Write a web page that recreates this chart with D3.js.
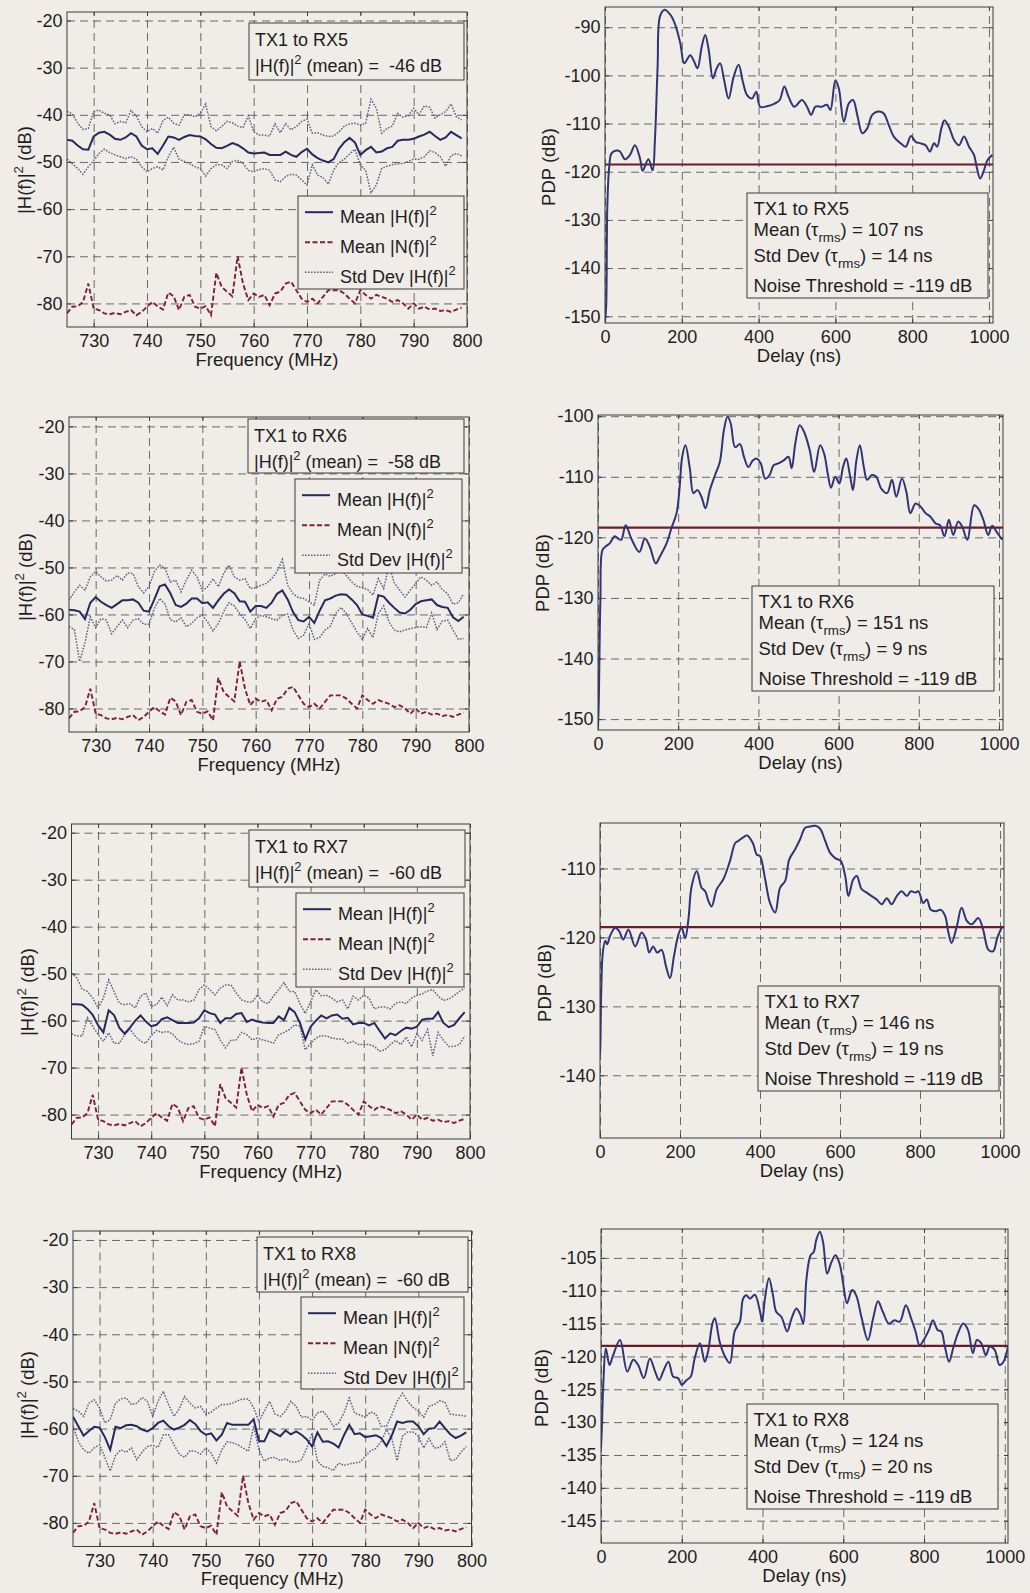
<!DOCTYPE html>
<html>
<head>
<meta charset="utf-8">
<script src="https://cdn.jsdelivr.net/npm/d3@7"></script>
<style>
body { margin: 0; background: #f0ece8; }
svg text { font-family: "Liberation Sans", Arial, Helvetica, sans-serif; fill: #1e1e1e; white-space: pre; }
</style>
</head>
<body>
<svg id="fig" width="1030" height="1593"></svg>
<script>
// ---- data ----
const freqMHz = [725, 726, 727, 728, 729, 730, 731, 732, 733, 734, 735, 736, 737, 738, 739, 740, 741, 742, 743, 744,
  745, 746, 747, 748, 749, 750, 751, 752, 753, 754, 755, 756, 757, 758, 759, 760, 761, 762, 763, 764,
  765, 766, 767, 768, 769, 770, 771, 772, 773, 774, 775, 776, 777, 778, 779, 780, 781, 782, 783, 784,
  785, 786, 787, 788, 789, 790, 791, 792, 793, 794, 795, 796, 797, 798, 799];

// noise floor |N(f)|^2 (same measurement in all four panels)
const noiseN = [-82.1, -80.7, -80.6, -79.7, -75.8, -81.1, -81.4, -82.1, -82.3, -82.0, -82.3, -81.8, -81.4, -82.5, -81.8, -80.7, -79.7, -80.6, -81.3, -77.7,
  -78.5, -81.4, -78.6, -78.2, -80.7, -81.1, -80.6, -82.5, -73.5, -76.5, -77.5, -78.5, -70.0, -75.8, -79.3, -77.9, -78.6, -78.2, -80.4, -77.9,
  -77.5, -75.8, -75.4, -77.2, -79.0, -79.7, -79.0, -80.0, -78.6, -77.2, -77.2, -77.2, -77.9, -79.0, -80.0, -77.2, -78.2, -79.0, -78.2, -78.6,
  -79.0, -79.7, -79.3, -80.0, -81.1, -80.0, -81.1, -80.7, -81.3, -81.1, -81.6, -81.4, -81.8, -81.3, -80.9];

const rx5Mean = [-45.3, -45.5, -46.5, -47.3, -47.4, -44.6, -43.8, -43.6, -44.2, -45.1, -45.3, -44.8, -43.9, -44.6, -46.5, -47.3, -47.1, -48.3, -46.5, -44.6,
  -44.8, -45.3, -44.7, -44.3, -44.5, -44.6, -45.2, -46.2, -47.0, -47.1, -46.6, -46.0, -46.4, -47.1, -48.0, -48.2, -48.1, -48.0, -48.5, -48.5,
  -48.5, -47.8, -48.5, -48.9, -47.9, -47.2, -48.4, -49.2, -49.7, -50.1, -49.4, -47.2, -45.8, -44.9, -45.9, -48.5, -47.5, -46.8, -48.0, -47.8,
  -47.1, -46.8, -45.5, -45.3, -45.3, -45.1, -44.6, -44.2, -43.6, -44.5, -45.3, -44.8, -43.6, -44.3, -45.0];
const rx5StdHi = [-39.3, -39.8, -41.8, -43.1, -42.9, -39.3, -39.0, -39.7, -40.0, -41.9, -41.4, -41.7, -39.1, -40.2, -42.5, -43.6, -42.9, -43.9, -41.2, -40.5,
  -41.8, -42.2, -40.0, -40.0, -40.4, -39.7, -37.7, -42.5, -43.4, -42.5, -41.4, -41.7, -42.4, -42.7, -40.2, -43.6, -44.3, -44.3, -44.5, -41.9,
  -43.8, -41.9, -43.2, -42.5, -41.4, -40.9, -43.9, -43.8, -44.3, -44.6, -44.5, -43.6, -42.4, -41.9, -41.8, -42.2, -41.8, -36.7, -38.6, -43.9,
  -42.9, -42.4, -39.7, -40.5, -40.2, -38.6, -40.0, -38.1, -38.4, -40.7, -40.0, -39.3, -37.7, -40.4, -41.1];
const rx5StdLo = [-49.4, -50.4, -51.4, -52.6, -51.0, -49.7, -48.2, -47.3, -48.0, -48.5, -48.9, -49.3, -48.9, -49.4, -51.0, -52.1, -51.4, -51.0, -51.7, -48.9,
  -46.9, -49.4, -49.9, -50.4, -51.0, -51.4, -53.0, -51.4, -50.6, -50.6, -51.4, -49.9, -49.7, -50.3, -51.8, -52.1, -51.6, -51.4, -51.8, -53.8,
  -54.2, -53.1, -52.6, -52.8, -53.8, -54.9, -50.6, -52.8, -53.3, -54.7, -51.7, -50.1, -49.4, -48.3, -47.3, -50.6, -51.8, -56.5, -54.9, -51.4,
  -50.9, -50.6, -50.4, -50.3, -49.9, -49.4, -49.4, -48.9, -47.6, -48.0, -48.9, -50.9, -48.7, -48.2, -48.7];

const rx6Mean = [-59.0, -59.1, -59.4, -61.0, -57.5, -56.3, -57.3, -58.0, -58.6, -57.8, -57.0, -57.0, -56.8, -57.5, -59.2, -59.4, -56.8, -54.0, -53.6, -55.5,
  -58.0, -58.4, -57.7, -56.6, -56.6, -57.6, -57.4, -58.6, -57.0, -55.6, -54.7, -55.5, -57.2, -57.3, -59.4, -58.2, -58.2, -58.6, -57.5, -55.6,
  -54.9, -56.8, -59.5, -61.2, -61.5, -60.5, -61.8, -59.2, -57.0, -56.6, -56.0, -55.7, -55.8, -56.8, -58.0, -60.0, -60.3, -60.7, -55.9, -56.2,
  -57.5, -58.6, -59.6, -59.8, -59.0, -57.8, -57.2, -57.0, -56.8, -58.0, -58.4, -58.6, -60.6, -61.4, -60.5];
const rx6StdHi = [-57.0, -55.2, -53.8, -54.8, -52.0, -50.9, -52.0, -52.9, -52.7, -51.7, -52.7, -51.2, -51.3, -54.1, -55.4, -54.1, -50.9, -49.5, -50.2, -53.1,
  -52.7, -55.2, -52.7, -50.6, -52.0, -55.0, -54.1, -52.4, -54.1, -51.3, -49.5, -52.0, -52.7, -52.4, -54.5, -54.3, -53.8, -53.4, -52.4, -50.9,
  -48.3, -53.8, -55.6, -56.4, -56.6, -57.3, -58.0, -52.7, -51.4, -51.9, -51.3, -50.6, -51.7, -53.1, -54.0, -54.3, -54.7, -55.9, -52.4, -54.5,
  -49.5, -53.3, -54.8, -56.3, -54.8, -53.4, -52.0, -52.7, -53.8, -53.1, -54.7, -55.6, -57.8, -57.5, -55.6];
const rx6StdLo = [-62.6, -63.2, -70.0, -66.0, -60.5, -62.8, -60.9, -61.2, -64.1, -62.6, -61.2, -62.8, -61.2, -60.9, -62.1, -62.1, -58.7, -56.6, -57.8, -61.1,
  -61.6, -60.7, -62.6, -61.9, -60.7, -60.2, -61.6, -63.5, -61.9, -59.4, -57.5, -58.2, -59.8, -61.1, -63.0, -60.9, -60.2, -60.5, -60.9, -61.2,
  -60.2, -59.9, -63.3, -65.1, -64.4, -61.9, -65.3, -64.9, -63.3, -62.5, -59.8, -58.5, -59.8, -61.8, -63.7, -65.3, -63.0, -64.9, -59.8, -58.2,
  -61.6, -63.3, -63.7, -63.3, -63.0, -62.8, -62.6, -62.8, -59.7, -63.2, -61.4, -61.2, -63.3, -65.3, -65.1];

const rx7Mean = [-56.5, -56.5, -56.6, -57.5, -58.8, -61.0, -62.5, -57.8, -58.8, -61.5, -62.8, -61.5, -60.0, -58.9, -60.2, -61.2, -60.9, -59.7, -59.3, -59.9,
  -60.5, -60.5, -60.5, -60.4, -59.5, -57.8, -58.4, -58.7, -60.5, -59.5, -59.5, -58.6, -58.4, -60.3, -59.8, -60.2, -60.4, -60.5, -60.5, -59.1,
  -59.9, -57.3, -58.2, -60.5, -64.0, -61.3, -60.0, -58.9, -59.5, -58.9, -58.7, -59.6, -59.4, -60.8, -60.5, -60.5, -61.0, -60.5, -62.2, -63.8,
  -62.7, -63.1, -62.2, -61.5, -61.7, -61.3, -59.8, -59.6, -59.6, -58.2, -60.5, -61.4, -60.9, -59.5, -58.2];
const rx7StdHi = [-49.9, -50.9, -53.3, -53.8, -55.2, -57.3, -55.2, -51.3, -53.8, -56.3, -56.6, -56.4, -57.3, -54.8, -54.1, -57.0, -56.6, -55.0, -56.8, -54.5,
  -55.6, -55.6, -56.0, -55.7, -53.4, -52.4, -53.4, -54.5, -53.1, -52.4, -52.4, -54.1, -55.6, -56.0, -56.1, -54.5, -56.0, -56.4, -54.8, -53.4,
  -51.9, -53.8, -53.8, -56.4, -58.5, -56.0, -53.4, -54.7, -54.6, -55.2, -56.0, -55.6, -57.5, -54.8, -55.6, -54.6, -55.2, -57.5, -57.1, -57.1,
  -57.5, -56.3, -56.0, -56.4, -55.2, -54.6, -54.3, -53.7, -53.4, -54.8, -55.7, -55.4, -54.7, -53.8, -53.1];
const rx7StdLo = [-62.8, -63.3, -63.3, -59.4, -61.2, -63.0, -64.4, -62.6, -64.8, -64.8, -63.0, -61.8, -63.3, -64.4, -64.8, -63.2, -62.1, -62.5, -62.3, -62.8,
  -64.1, -64.8, -65.1, -64.9, -64.4, -61.2, -61.6, -61.9, -64.1, -65.8, -64.2, -64.1, -62.5, -63.0, -64.1, -63.7, -64.1, -64.4, -64.8, -63.0,
  -62.5, -61.9, -60.9, -61.2, -66.2, -64.9, -63.7, -63.2, -63.3, -63.7, -63.9, -63.9, -64.8, -64.4, -65.1, -65.1, -65.1, -65.5, -66.5, -66.2,
  -65.1, -64.2, -65.1, -63.5, -65.6, -62.8, -64.2, -61.9, -67.5, -62.5, -64.2, -65.5, -65.5, -65.1, -63.3];

const rx8Mean = [-57.5, -59.5, -61.5, -60.5, -59.6, -59.8, -61.8, -64.5, -59.6, -59.9, -59.3, -59.2, -59.5, -60.2, -60.6, -59.9, -58.8, -58.3, -59.5, -60.2,
  -59.8, -59.2, -58.2, -59.0, -60.5, -61.3, -61.0, -62.5, -61.3, -58.8, -59.2, -59.2, -59.2, -59.2, -58.0, -62.7, -62.7, -60.3, -61.0, -61.6,
  -60.4, -61.2, -60.6, -61.3, -62.3, -63.8, -60.8, -62.8, -62.7, -63.2, -64.0, -61.4, -59.2, -61.2, -61.0, -61.8, -61.6, -61.4, -62.0, -63.7,
  -61.5, -58.5, -58.8, -58.5, -58.5, -59.5, -61.2, -60.0, -59.9, -58.5, -59.9, -61.2, -62.0, -61.5, -60.8];
const rx8StdHi = [-55.8, -56.3, -57.4, -54.6, -53.9, -55.6, -58.8, -58.1, -54.6, -53.7, -53.5, -54.9, -54.6, -53.4, -54.2, -57.4, -54.2, -52.1, -54.9, -57.4,
  -55.8, -53.2, -54.6, -55.6, -55.3, -56.9, -56.5, -55.6, -54.9, -54.9, -54.6, -54.1, -53.7, -53.7, -55.6, -58.5, -56.3, -54.2, -56.9, -57.4,
  -56.3, -54.2, -55.3, -57.6, -57.4, -58.3, -56.7, -56.3, -57.6, -59.5, -58.8, -56.7, -53.5, -56.7, -57.1, -57.6, -56.5, -56.9, -59.5, -59.5,
  -57.1, -54.2, -52.5, -54.2, -55.5, -56.3, -57.6, -55.3, -54.9, -54.1, -54.4, -56.9, -57.1, -57.2, -57.4];
const rx8StdLo = [-59.5, -62.7, -64.5, -65.2, -64.1, -63.4, -66.1, -69.0, -65.7, -64.5, -65.0, -64.1, -66.6, -65.0, -63.8, -63.5, -64.0, -61.3, -61.3, -63.4,
  -65.4, -66.1, -64.7, -64.8, -65.4, -64.1, -65.2, -67.3, -64.5, -62.8, -63.0, -63.4, -64.1, -64.8, -59.5, -64.5, -66.9, -66.2, -66.1, -66.8,
  -66.4, -67.1, -67.1, -66.6, -64.1, -60.9, -66.9, -68.0, -68.3, -68.9, -67.3, -67.8, -67.5, -67.3, -67.1, -65.9, -64.7, -64.2, -62.7, -60.2,
  -62.1, -66.8, -61.6, -60.7, -60.7, -61.6, -64.1, -62.1, -64.1, -64.0, -62.8, -66.8, -66.6, -65.0, -63.8];

// power delay profiles: [delay ns, dB]
const pdpRx5 = [[0,-151],[3,-148],[6,-127.3],[11,-119],[17,-116.2],[30,-115.6],[39,-115.8],[52,-117.4],[65,-116.5],[78,-114.5],[91,-117.2],[98,-119.8],
  [113,-117.4],[124,-119.7],[130,-113.4],[137,-98.2],[143,-87.8],[154,-86.4],[170,-87.4],[183,-89.5],[196,-93.3],[206,-97.5],[213,-96.8],[222,-95.8],
  [232,-97.1],[241,-98.5],[252,-94],[261,-91.6],[270,-94.7],[281,-100.6],[291,-98.5],[300,-97.5],[310,-100.9],[322,-104.8],[335,-100.3],[348,-97.8],
  [359,-101.3],[370,-104.1],[383,-104.8],[394,-103.4],[404,-106.5],[422,-106.4],[443,-105.8],[455,-105.1],[467,-102.3],[478,-104.4],[493,-106.5],
  [513,-105.1],[526,-106.5],[537,-108.2],[548,-106.5],[565,-106.5],[578,-106.1],[587,-107.2],[600,-101],[609,-102.7],[622,-109.6],[635,-105.8],
  [646,-105.1],[658,-108.6],[670,-112],[683,-111],[696,-108.2],[713,-107.5],[726,-107.9],[739,-110.3],[752,-112.7],[770,-114.1],[783,-114.8],
  [797,-112.6],[809,-113.8],[822,-114.1],[835,-114.5],[846,-115.8],[857,-114.1],[865,-114.8],[876,-111],[884,-109.3],[896,-110.7],[909,-113.4],
  [922,-114.5],[935,-112.7],[948,-114.8],[961,-116.5],[968,-119],[977,-121.4],[987,-119.7],[996,-117.6],[1009,-116.5]];
const pdpRx6 = [[0,-151.5],[2,-146.8],[6,-130.3],[11,-122.1],[19,-121.5],[29,-121],[42,-119.8],[50,-120.2],[58,-120.4],[69,-118],[83,-120.2],
  [103,-122.4],[117,-120.2],[129,-121.5],[144,-124.3],[154,-123.2],[171,-121],[183,-118.5],[196,-116],[203,-112.2],[210,-106.7],[218,-104.8],
  [229,-108.6],[238,-112.7],[248,-112.2],[258,-113.3],[268,-115.2],[279,-112.2],[292,-109.7],[304,-107.5],[314,-102.3],[323,-100.1],[331,-101.2],
  [342,-105.1],[354,-104.6],[364,-106.7],[375,-108.4],[386,-107.3],[396,-107],[406,-107.8],[417,-110.3],[428,-109.7],[438,-108.1],[450,-107.8],
  [463,-107.3],[475,-106.7],[483,-108.6],[492,-104.5],[503,-101.5],[514,-102.6],[528,-105.6],[539,-109.2],[554,-104.8],[564,-106.2],[573,-109.5],
  [581,-111.8],[592,-110],[602,-111.1],[611,-108.4],[619,-107],[629,-110],[636,-112.2],[644,-107.5],[653,-104.8],[663,-108.4],[671,-110.5],
  [683,-109.7],[694,-110],[706,-111.9],[721,-112.7],[733,-110.5],[744,-113.3],[758,-110.3],[769,-112.5],[779,-116],[792,-114.4],[804,-114.9],
  [817,-116],[829,-116.6],[842,-117.7],[853,-118],[864,-119.8],[875,-117.1],[886,-119.6],[898,-117.4],[908,-118.2],[921,-120.4],[938,-114.7],
  [948,-115.2],[961,-117.1],[973,-119.6],[983,-118.1],[994,-119.1],[1008,-120.4]];
const pdpRx7 = [[0,-137],[1,-135.3],[3,-128],[7,-122.2],[13,-120.5],[18,-121],[25,-119.8],[38,-118.6],[48,-119.1],[58,-120.3],[71,-118.9],[88,-121.3],
  [104,-119.3],[115,-120.3],[123,-122.2],[133,-121.3],[143,-122.2],[154,-121.8],[165,-124.2],[175,-125.9],[185,-122.7],[196,-119.6],[204,-118.6],
  [213,-120.1],[221,-117.4],[229,-112.6],[242,-110.4],[254,-112.8],[263,-113.3],[271,-114.7],[279,-115.5],[292,-113],[308,-111.6],[325,-108.9],
  [338,-106.3],[346,-106],[358,-105.5],[368,-105.2],[382,-106.3],[392,-108],[400,-108.2],[413,-111.6],[425,-115],[438,-116.4],[450,-112.8],
  [463,-111.8],[473,-108.7],[488,-107.2],[500,-105.8],[513,-104.1],[525,-103.9],[538,-103.8],[550,-104.2],[563,-106],[575,-107.7],[588,-108.5],
  [602,-108.9],[613,-111.1],[621,-114],[633,-111.6],[642,-111.1],[654,-113],[667,-113.5],[679,-114],[692,-114.5],[704,-115.2],[717,-114.3],
  [729,-115.2],[742,-114],[754,-113.3],[767,-114],[777,-113.3],[788,-113.5],[796,-113.3],[808,-115],[817,-114.5],[827,-116],[840,-116.2],
  [852,-116],[863,-116.9],[871,-119.3],[879,-120.8],[892,-118.4],[904,-115.7],[917,-117.6],[929,-118.1],[946,-117.2],[958,-118.9],[971,-121.8],
  [983,-122],[993,-120.1],[1004,-118.6]];
const pdpRx8 = [[0,-134],[2,-131],[6,-123.8],[12,-118.8],[21,-121.3],[29,-120],[47,-117.5],[65,-122.3],[80,-120.5],[92,-121.3],[106,-123.3],
  [121,-120.3],[134,-122.3],[144,-123.6],[154,-122.3],[167,-120.8],[179,-123.1],[191,-123.3],[200,-124.3],[212,-123.6],[222,-123.1],[232,-120.3],
  [245,-118],[257,-120.8],[265,-119.3],[276,-115],[282,-114.2],[294,-117.8],[307,-120],[319,-121],[331,-116.2],[344,-114.7],[352,-111.2],
  [360,-110.7],[369,-111.2],[381,-110.6],[394,-113.2],[399,-114.7],[406,-111.2],[416,-108.1],[426,-110.7],[434,-113.2],[447,-114],[461,-116.2],
  [472,-114.2],[484,-112.7],[494,-113.7],[501,-115],[509,-108.1],[519,-104.6],[527,-104.1],[533,-102.3],[542,-101],[550,-102.6],[560,-107.4],
  [571,-105.6],[581,-104.6],[591,-105.9],[601,-109.4],[609,-111.9],[622,-109.9],[632,-110.7],[645,-114],[661,-117.5],[674,-114.2],[686,-111.6],
  [698,-113.2],[713,-115],[727,-114.5],[740,-114.7],[755,-112.2],[768,-114.2],[779,-116.2],[789,-118.3],[801,-117.3],[812,-116],[822,-114.5],
  [834,-116],[843,-116.2],[851,-118.3],[862,-120.8],[872,-118.8],[884,-116.5],[897,-115],[909,-116],[921,-119.5],[931,-117.5],[942,-118],
  [953,-119.8],[963,-118.5],[975,-119],[987,-121.3],[997,-120.8],[1008,-118.5]];

const receivers = ["RX5", "RX6", "RX7", "RX8"];
const meanGainDb = [-46, -58, -60, -60];
const tauMeanNs = [107, 151, 146, 124];
const tauStdNs = [14, 9, 19, 20];
const noiseThresholdDb = [-119, -119, -119, -119];
const thresholdLineDb = [-118.5, -118.4, -118.5, -118.4];

const freqTicks = [730, 740, 750, 760, 770, 780, 790, 800];
const gainTicks = [-80, -70, -60, -50, -40, -30, -20];
const delayTicks = [0, 200, 400, 600, 800, 1000];
const pdpTicks = [
  [-150, -140, -130, -120, -110, -100, -90],
  [-150, -140, -130, -120, -110, -100],
  [-140, -130, -120, -110],
  [-145, -140, -135, -130, -125, -120, -115, -110, -105]
];

// ---- layout (pixel boxes of each axes, text boxes) ----
const freqLayout = [
  { x0: 67, x1: 467, y0: 12, y1: 327, yDom: [-85, -18.2], ylab: [25, 170], info: [249, 23, 215, 57], leg: [298, 196, 166, 93] },
  { x0: 69, x1: 469, y0: 417, y1: 732, yDom: [-85, -18], ylab: [26, 577], info: [248, 419, 216, 54], leg: [295, 479, 167, 94] },
  { x0: 71.5, x1: 470, y0: 824, y1: 1139, yDom: [-85.2, -18.15], ylab: [28, 992], info: [249, 830, 216, 57], leg: [296, 893, 168, 94] },
  { x0: 73, x1: 471.5, y0: 1231, y1: 1546.5, yDom: [-85, -18.1], ylab: [28, 1395], info: [257, 1237, 211, 55], leg: [301, 1297, 163, 92] }
];
const pdpLayout = [
  { x0: 605, x1: 993, y0: 7, y1: 323, xMax: 1010.5, yDom: [-151.4, -85.8], ylab: [549, 167], info: [747, 193, 241, 105] },
  { x0: 598, x1: 1003, y0: 415, y1: 730, xMax: 1010, yDom: [-151.8, -99.8], ylab: [543, 573], info: [752, 586, 242, 105] },
  { x0: 600, x1: 1004, y0: 823, y1: 1138, xMax: 1010, yDom: [-149.1, -103.4], ylab: [545, 983], info: [758, 986, 241, 105] },
  { x0: 601, x1: 1008, y0: 1229, y1: 1543, xMax: 1008, yDom: [-148.4, -100.6], ylab: [542, 1388], info: [747, 1404, 251, 105] }
];

const bg = "#f0ece8";
const gridColor = "#5a5a5a";
const frameColor = "#3c3c3c";
const meanColor = "#252a5c";
const stdColor = "#5e6488";
const noiseColor = "#7d2330";
const pdpColor = "#2f3673";
const threshColor = "#6b1c2b";

const svg = d3.select("#fig");
svg.append("rect").attr("width", 1030).attr("height", 1593).attr("fill", bg);

// text with superscript / subscript pieces
function richText(g, x, y, parts, size) {
  const t = g.append("text").attr("x", x).attr("y", y).style("font-size", size + "px");
  let shift = 0;
  parts.forEach(([s, kind]) => {
    const target = kind === "sup" ? -0.42 * size : kind === "sub" ? 0.33 * size : 0;
    const ts = t.append("tspan").attr("dy", target - shift).text(s);
    if (kind) ts.style("font-size", (size * 0.72) + "px");
    shift = target;
  });
  return t;
}

function drawAxes(g, x, y, L, xTicks, yTicks, xTitle, yTitleParts) {
  const w = L.x1 - L.x0, h = L.y1 - L.y0;
  const styleGrid = a => {
    a.select(".domain").remove();
    a.selectAll(".tick line").attr("stroke", gridColor).attr("stroke-width", 0.9).attr("stroke-dasharray", "8,5");
    a.selectAll(".tick text").style("font-size", "18px");
  };
  // x grid + labels
  g.append("g").attr("transform", `translate(0,${L.y1})`)
    .call(d3.axisBottom(x).tickValues(xTicks).tickSize(-h).tickPadding(7.5).tickFormat(d => String(d)))
    .call(styleGrid);
  // y grid + labels
  g.append("g").attr("transform", `translate(${L.x0},0)`)
    .call(d3.axisLeft(y).tickValues(yTicks).tickSize(-w).tickPadding(4.5).tickFormat(d => String(d)))
    .call(styleGrid);
  // small inner ticks on all sides
  const tickStyle = a => {
    a.select(".domain").remove();
    a.selectAll(".tick line").attr("stroke", frameColor);
  };
  g.append("g").attr("transform", `translate(0,${L.y1})`).call(d3.axisBottom(x).tickValues(xTicks).tickSize(-4).tickFormat("")).call(tickStyle);
  g.append("g").attr("transform", `translate(0,${L.y0})`).call(d3.axisTop(x).tickValues(xTicks).tickSize(-4).tickFormat("")).call(tickStyle);
  g.append("g").attr("transform", `translate(${L.x0},0)`).call(d3.axisLeft(y).tickValues(yTicks).tickSize(-4).tickFormat("")).call(tickStyle);
  g.append("g").attr("transform", `translate(${L.x1},0)`).call(d3.axisRight(y).tickValues(yTicks).tickSize(-4).tickFormat("")).call(tickStyle);

  g.append("text").attr("x", (L.x0 + L.x1) / 2).attr("y", L.y1 + 38.5)
    .attr("text-anchor", "middle").style("font-size", "18.5px").text(xTitle);
  richText(g, 0, 0, yTitleParts, 18.5)
    .attr("text-anchor", "middle")
    .attr("transform", `translate(${L.ylab[0] + 6},${L.ylab[1]}) rotate(-90)`);
}

function frame(g, L) {
  g.append("rect").attr("x", L.x0).attr("y", L.y0).attr("width", L.x1 - L.x0).attr("height", L.y1 - L.y0)
    .attr("fill", "none").attr("stroke", frameColor).attr("stroke-width", 1);
}

function clipFor(g, L, id) {
  g.append("clipPath").attr("id", id).append("rect")
    .attr("x", L.x0).attr("y", L.y0).attr("width", L.x1 - L.x0).attr("height", L.y1 - L.y0);
  return g.append("g").attr("clip-path", `url(#${id})`);
}

function textBox(g, box) {
  g.append("rect").attr("x", box[0]).attr("y", box[1]).attr("width", box[2]).attr("height", box[3])
    .attr("fill", bg).attr("stroke", frameColor).attr("stroke-width", 1);
}

// ---- frequency response panels ----
function drawFreqPanel(i, mean, hi, lo) {
  const L = freqLayout[i];
  const g = svg.append("g");
  const x = d3.scaleLinear().domain([725, 800]).range([L.x0, L.x1]);
  const y = d3.scaleLinear().domain(L.yDom).range([L.y1, L.y0]);
  drawAxes(g, x, y, L, freqTicks, gainTicks, "Frequency (MHz)", [["|H(f)|"], ["2", "sup"], [" (dB)"]]);

  const plot = clipFor(g, L, "clipF" + i);
  const line = d3.line().x((d, k) => x(freqMHz[k])).y(d => y(d));
  plot.append("path").attr("d", line(noiseN)).attr("fill", "none")
    .attr("stroke", noiseColor).attr("stroke-width", 1.9).attr("stroke-dasharray", "5,2.5");
  [hi, lo].forEach(s => plot.append("path").attr("d", line(s)).attr("fill", "none")
    .attr("stroke", stdColor).attr("stroke-width", 1.5).attr("stroke-dasharray", "1.6,1.4"));
  plot.append("path").attr("d", line(mean)).attr("fill", "none")
    .attr("stroke", meanColor).attr("stroke-width", 2);
  frame(g, L);

  // info box
  const b = L.info;
  textBox(g, b);
  richText(g, b[0] + 6, b[1] + 22.5, [["TX1 to " + receivers[i]]], 18);
  richText(g, b[0] + 6, b[1] + 48.5, [["|H(f)|"], ["2", "sup"], [" (mean) =  " + meanGainDb[i] + " dB"]], 18);

  // legend
  const lg = L.leg;
  textBox(g, lg);
  const entries = [
    { parts: [["Mean |H(f)|"], ["2", "sup"]], color: meanColor, dash: null, w: 2 },
    { parts: [["Mean |N(f)|"], ["2", "sup"]], color: noiseColor, dash: "5,2.5", w: 1.9 },
    { parts: [["Std Dev |H(f)|"], ["2", "sup"]], color: stdColor, dash: "1.6,1.4", w: 1.5 }
  ];
  entries.forEach((e, k) => {
    const by = lg[1] + 26.7 + k * 30;
    g.append("line").attr("x1", lg[0] + 7).attr("x2", lg[0] + 35).attr("y1", by - 10.5).attr("y2", by - 10.5)
      .attr("stroke", e.color).attr("stroke-width", e.w).attr("stroke-dasharray", e.dash);
    richText(g, lg[0] + 42, by, e.parts, 18);
  });
}

// ---- power delay profile panels ----
function drawPdpPanel(i, pdp) {
  const L = pdpLayout[i];
  const g = svg.append("g");
  const x = d3.scaleLinear().domain([0, L.xMax]).range([L.x0, L.x1]);
  const y = d3.scaleLinear().domain(L.yDom).range([L.y1, L.y0]);
  drawAxes(g, x, y, L, delayTicks, pdpTicks[i], "Delay (ns)", [["PDP (dB)"]]);

  const plot = clipFor(g, L, "clipP" + i);
  plot.append("line").attr("x1", L.x0).attr("x2", L.x1)
    .attr("y1", y(thresholdLineDb[i])).attr("y2", y(thresholdLineDb[i]))
    .attr("stroke", threshColor).attr("stroke-width", 2.2);
  const line = d3.line().curve(d3.curveCatmullRom.alpha(0.5)).x(d => x(d[0])).y(d => y(d[1]));
  plot.append("path").attr("d", line(pdp)).attr("fill", "none")
    .attr("stroke", pdpColor).attr("stroke-width", 2).attr("stroke-linejoin", "round");
  frame(g, L);

  const b = L.info;
  textBox(g, b);
  const tx = b[0] + 6.5;
  richText(g, tx, b[1] + 22, [["TX1 to " + receivers[i]]], 18.5);
  richText(g, tx, b[1] + 42.5, [["Mean (τ"], ["rms", "sub"], [") = " + tauMeanNs[i] + " ns"]], 18.5);
  richText(g, tx, b[1] + 69, [["Std Dev (τ"], ["rms", "sub"], [") = " + tauStdNs[i] + " ns"]], 18.5);
  richText(g, tx, b[1] + 98.5, [["Noise Threshold = " + noiseThresholdDb[i] + " dB"]], 18.5);
}

drawFreqPanel(0, rx5Mean, rx5StdHi, rx5StdLo);
drawFreqPanel(1, rx6Mean, rx6StdHi, rx6StdLo);
drawFreqPanel(2, rx7Mean, rx7StdHi, rx7StdLo);
drawFreqPanel(3, rx8Mean, rx8StdHi, rx8StdLo);
drawPdpPanel(0, pdpRx5);
drawPdpPanel(1, pdpRx6);
drawPdpPanel(2, pdpRx7);
drawPdpPanel(3, pdpRx8);
</script>
</body>
</html>
